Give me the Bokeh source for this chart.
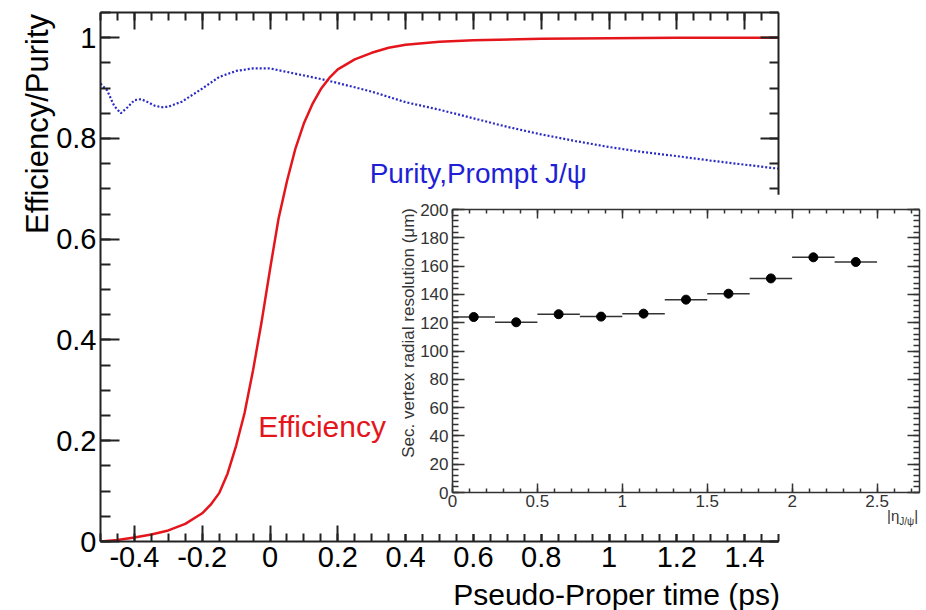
import numpy as np
from bokeh.plotting import figure
from bokeh.models import (Range1d, LinearAxis, SingleIntervalTicker,
                          CustomJSTickFormatter, Label, Div)
from bokeh.embed import file_html
from bokeh.resources import INLINE

# ---------------- data ----------------
time_eff = [-0.5, -0.45, -0.4, -0.35, -0.3, -0.25, -0.2, -0.175, -0.15, -0.125,
            -0.1, -0.075, -0.05, -0.025, 0.0, 0.025, 0.05, 0.075, 0.1, 0.125,
            0.15, 0.175, 0.2, 0.25, 0.3, 0.35, 0.4, 0.5, 0.6, 0.8, 1.0, 1.2, 1.5]
efficiency = [0.0, 0.003, 0.008, 0.014, 0.022, 0.035, 0.056, 0.073, 0.096, 0.135,
              0.19, 0.255, 0.34, 0.435, 0.54, 0.64, 0.715, 0.78, 0.83, 0.868,
              0.898, 0.92, 0.937, 0.957, 0.970, 0.980, 0.986, 0.992, 0.995, 0.998, 0.999, 1.0, 1.0]

time_pur = [-0.5, -0.48, -0.46, -0.44, -0.42, -0.40, -0.38, -0.36, -0.34, -0.32,
            -0.3, -0.26, -0.2, -0.15, -0.1, -0.05, 0.0, 0.05, 0.1, 0.15, 0.2,
            0.3, 0.4, 0.5, 0.6, 0.7, 0.8, 0.9, 1.0, 1.1, 1.2, 1.3, 1.4, 1.5]
purity = [0.909, 0.895, 0.865, 0.850, 0.862, 0.876, 0.878, 0.872, 0.865, 0.862,
          0.863, 0.873, 0.899, 0.922, 0.934, 0.939, 0.939, 0.932, 0.925, 0.918, 0.910,
          0.893, 0.872, 0.857, 0.840, 0.823, 0.808, 0.795, 0.783, 0.773, 0.765, 0.756, 0.748, 0.740]

eta_center = [0.125, 0.375, 0.625, 0.875, 1.125, 1.375, 1.625, 1.875, 2.125, 2.375]
eta_halfwidth = [0.125] * 10
resolution = [124.0, 120.3, 126.0, 124.3, 126.4, 136.3, 140.5, 151.3, 166.2, 162.9]
resolution_err = [1.0, 1.0, 1.0, 1.0, 1.0, 1.5, 1.5, 1.5, 2.0, 3.0]

FONT = "Liberation Sans"

num_fmt_code = """
if (Math.abs(tick) < 1e-9) { return "0"; }
let s = tick.toFixed(2);
s = s.replace(/0+$/, "").replace(/\\.$/, "");
return s;
"""


def add_axis(fig, side, interval, nminor, tick_in, minor_in, labels, font_size,
             standoff, color="#222222", label_color="black", lw=2):
    fmt = CustomJSTickFormatter(code=num_fmt_code if labels else "return '';")
    ax = LinearAxis(ticker=SingleIntervalTicker(interval=interval, num_minor_ticks=nminor),
                    formatter=fmt)
    ax.major_tick_in = tick_in
    ax.major_tick_out = 0
    ax.minor_tick_in = minor_in
    ax.minor_tick_out = 0
    ax.axis_line_color = color
    ax.axis_line_width = lw
    ax.major_tick_line_color = color
    ax.major_tick_line_width = lw
    ax.minor_tick_line_color = color
    ax.minor_tick_line_width = lw
    if labels:
        ax.major_label_text_font = FONT
        ax.major_label_text_font_size = font_size
        ax.major_label_text_color = label_color
        ax.major_label_standoff = standoff
    else:
        ax.major_label_text_font_size = "0px"
        ax.major_label_standoff = 0
    fig.add_layout(ax, side)
    return ax


def title_div(text, left, top, size, color, rotated=False, width=None, lh="1.2"):
    st = {"position": "absolute", "left": f"{left}px", "top": f"{top}px",
          "z-index": "20", "font-family": FONT, "font-size": size,
          "color": color, "line-height": lh, "white-space": "nowrap"}
    if rotated:
        st["transform"] = "rotate(-90deg) translateX(-100%)"
        st["transform-origin"] = "0 0"
    else:
        st["text-align"] = "right"
    kw = {"width": width} if width else {}
    return Div(text=text, styles=st, **kw)


# ---------------- main figure ----------------
p = figure(width=926, height=610, x_range=Range1d(-0.5, 1.5), y_range=Range1d(0, 1.05),
           output_backend="svg", toolbar_location=None,
           x_axis_type=None, y_axis_type=None,
           min_border_left=100, min_border_right=148, min_border_top=12, min_border_bottom=69)
p.outline_line_color = None
p.background_fill_color = "white"
p.border_fill_color = "white"

add_axis(p, "below", 0.2, 4, 16, 8, True, "29px", 5)
add_axis(p, "above", 0.2, 4, 17, 8, False, "0px", 0)
add_axis(p, "left", 0.2, 4, 19, 10, True, "29px", 4)
add_axis(p, "right", 0.2, 4, 18, 9, False, "0px", 0)

p.line(time_pur, purity, color="#2a2ac4", line_width=2.2, line_dash="2 2")
p.line(time_eff, efficiency, color="#e4161c", line_width=2.5)

p.add_layout(Label(x=0.294, y=0.730, text="Purity,Prompt J/ψ", text_color="#1f1fd6",
                   text_font=FONT, text_font_size="28px", text_baseline="alphabetic"))
p.add_layout(Label(x=-0.035, y=0.228, text="Efficiency", text_color="#e4161c",
                   text_font=FONT, text_font_size="30px", text_baseline="alphabetic"))

# ---------------- inset figure ----------------
inset = figure(width=531, height=340, x_range=Range1d(0, 2.75), y_range=Range1d(0, 200),
               output_backend="svg", toolbar_location=None,
               x_axis_type=None, y_axis_type=None,
               min_border_left=57, min_border_right=7, min_border_top=15, min_border_bottom=42)
inset.outline_line_color = None
inset.background_fill_color = "white"
inset.border_fill_color = "white"
inset.styles = {"position": "absolute", "left": "395px", "top": "194px", "z-index": "10"}
for fig in (p, inset):
    if "frame_align" in fig.properties():
        fig.frame_align = False

add_axis(inset, "below", 0.5, 5, 9, 4, True, "17px", 2, color="#333333", label_color="#333333", lw=1.5)
add_axis(inset, "above", 0.5, 5, 9, 4, False, "0px", 0, color="#333333", lw=1.5)
add_axis(inset, "left", 20, 5, 12, 6, True, "17px", 4, color="#333333", label_color="#333333", lw=1.5)
add_axis(inset, "right", 20, 5, 12, 6, False, "0px", 0, color="#333333", lw=1.5)

x_lo = [c - h for c, h in zip(eta_center, eta_halfwidth)]
x_hi = [c + h for c, h in zip(eta_center, eta_halfwidth)]
y_lo = [r - e for r, e in zip(resolution, resolution_err)]
y_hi = [r + e for r, e in zip(resolution, resolution_err)]
inset.segment(x0=x_lo, x1=x_hi, y0=resolution, y1=resolution, line_color="#333333", line_width=1.5)
inset.segment(x0=eta_center, x1=eta_center, y0=y_lo, y1=y_hi, line_color="#333333", line_width=1.5)
inset.scatter(eta_center, resolution, size=9, color="black")

# ---------------- axis titles (HTML text, placed over the canvases) ----------------
y_title = title_div("Efficiency/Purity", 14, 9, "31px", "black", rotated=True)
x_title = title_div("Pseudo-Proper time (ps)", 400, 573, "30px", "black", width=375, lh="1.1")
inset_y_title = title_div("Sec. vertex radial resolution (μm)", 394, 203, "17px", "#333333", rotated=True)
eta_label = Div(text='|η<sub style="font-size:10px">J/ψ</sub>|', width=42,
                styles={"position": "absolute", "left": "882px", "top": "503px",
                        "z-index": "20", "font-family": FONT, "font-size": "15px",
                        "color": "#333333", "line-height": "1", "white-space": "nowrap"})

roots = [p, inset, y_title, x_title, inset_y_title, eta_label]
open("out.html", "w").write(file_html(roots, INLINE))
